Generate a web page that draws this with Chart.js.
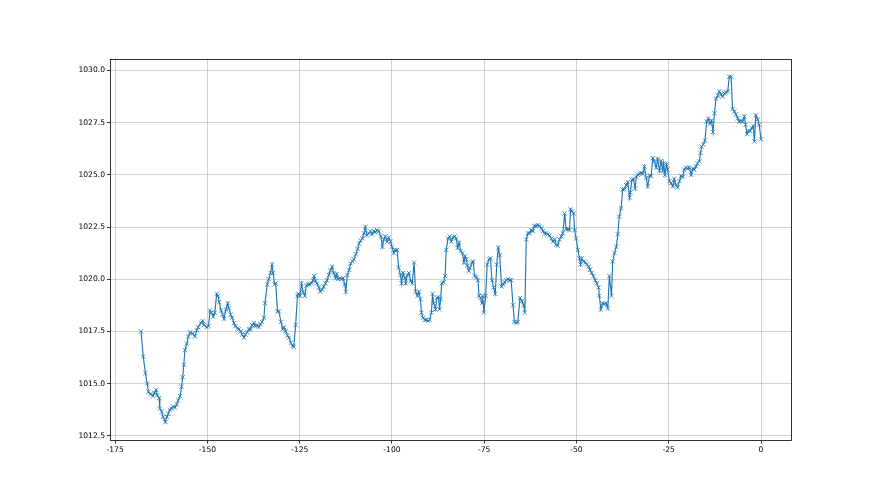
<!DOCTYPE html>
<html>
<head>
<meta charset="utf-8">
<script src="https://cdn.jsdelivr.net/npm/chart.js@4/dist/chart.umd.min.js"></script>
<style>
  html, body { margin: 0; padding: 0; background: #fff; }
  #wrap { width: 880px; height: 495px; }
</style>
</head>
<body>
<div id="wrap"><canvas id="c" width="880" height="495"></canvas></div>
<script>
// Hours relative to now
const hours = [
  -168.0, -167.4, -166.8, -166.3, -166.0, -165.4, -164.8, -164.4, -163.9, -163.6,
  -163.1, -162.9, -162.4, -162.0, -161.4, -161.0, -160.6, -160.2, -159.7, -159.3,
  -158.8, -158.3, -157.9, -157.4, -157.0, -156.7, -156.4, -156.1, -155.6, -155.2,
  -154.7, -154.0, -153.4, -152.9, -152.5, -151.8, -151.3, -150.9, -150.2, -149.7,
  -149.3, -148.9, -148.4, -148.0, -147.5, -147.1, -146.8, -146.3, -145.9, -145.5,
  -145.0, -144.5, -144.2, -143.7, -143.3, -142.8, -142.4, -141.9, -141.5, -141.0,
  -140.6, -140.1, -139.7, -139.2, -138.8, -138.3, -137.9, -137.4, -137.0, -136.5,
  -136.1, -135.6, -135.2, -134.7, -134.4, -133.8, -133.4, -132.9, -132.5, -132.2,
  -131.8, -131.5, -131.0, -130.6, -130.1, -129.6, -129.2, -128.8, -128.3, -127.9,
  -127.4, -126.9, -126.6, -126.1, -125.6, -125.4, -124.9, -124.5, -124.1, -123.6,
  -123.2, -122.7, -122.3, -121.8, -121.4, -121.1, -120.7, -120.3, -119.8, -119.4,
  -118.9, -118.5, -118.0, -117.6, -117.1, -116.7, -116.2, -115.8, -115.3, -115.0,
  -114.6, -114.1, -113.7, -113.2, -112.8, -112.5, -112.1, -111.6, -111.2, -110.7,
  -110.3, -109.8, -109.3, -108.9, -108.5, -108.0, -107.6, -107.2, -106.8, -106.3,
  -105.8, -105.4, -104.9, -104.5, -104.0, -103.6, -103.0, -102.6, -102.2, -101.8,
  -101.3, -100.9, -100.4, -100.0, -99.5, -99.1, -98.6, -98.2, -97.7, -97.4,
  -97.0, -96.5, -96.3, -95.8, -95.4, -94.9, -94.5, -94.0, -93.6, -93.1,
  -92.7, -92.3, -92.0, -91.6, -91.1, -90.7, -90.2, -89.8, -89.3, -89.0,
  -88.7, -88.2, -87.8, -87.4, -87.1, -86.8, -86.5, -86.0, -85.6, -85.3,
  -84.8, -84.4, -83.9, -83.5, -83.0, -82.6, -82.2, -81.8, -81.4, -80.9,
  -80.5, -80.2, -79.8, -79.6, -79.2, -78.8, -78.3, -78.0, -77.6, -77.1,
  -76.7, -76.4, -76.0, -75.6, -75.4, -75.1, -74.6, -74.2, -73.7, -73.3,
  -72.9, -72.5, -72.0, -71.6, -71.2, -70.8, -70.3, -69.8, -69.5, -69.0,
  -68.6, -68.1, -67.7, -67.2, -66.8, -66.3, -65.9, -65.3, -64.8, -64.3,
  -64.0, -63.6, -63.2, -62.7, -62.3, -61.8, -61.4, -60.9, -60.5, -60.0,
  -59.5, -59.1, -58.7, -58.2, -57.8, -57.3, -56.8, -56.4, -55.9, -55.5,
  -55.1, -54.6, -54.1, -53.7, -53.2, -52.8, -52.3, -51.9, -51.6, -51.2,
  -50.8, -50.5, -50.1, -49.6, -49.2, -48.9, -48.6, -48.1, -47.6, -47.2,
  -46.7, -46.3, -45.9, -45.4, -44.9, -44.5, -44.0, -43.8, -43.4, -42.9,
  -42.4, -42.0, -41.5, -41.1, -40.5, -40.2, -39.7, -39.2, -38.8, -38.4,
  -37.9, -37.5, -37.0, -36.5, -36.1, -35.6, -35.4, -35.0, -34.6, -34.1,
  -33.8, -33.4, -32.9, -32.5, -32.0, -31.6, -31.1, -30.7, -30.2, -29.8,
  -29.3, -28.9, -28.4, -28.0, -27.5, -27.1, -26.6, -26.4, -26.0, -25.6,
  -25.3, -24.8, -24.4, -23.9, -23.5, -23.0, -22.6, -22.1, -21.7, -21.2,
  -20.8, -20.3, -19.9, -19.4, -18.9, -18.5, -18.1, -17.6, -17.2, -16.7,
  -16.4, -16.1, -15.6, -15.2, -14.7, -14.3, -13.8, -13.4, -13.0, -12.6,
  -12.2, -11.7, -11.3, -10.8, -10.4, -9.9, -9.5, -9.0, -8.6, -8.1,
  -7.7, -7.2, -6.8, -6.3, -5.9, -5.4, -5.0, -4.5, -4.2, -3.8,
  -3.4, -2.9, -2.5, -2.1, -1.8, -1.4, -0.9, -0.5, 0.0
];

// Pressure readings (hPa) in order
const pressure = [
  1017.5, 1016.3, 1015.5, 1015.0, 1014.6, 1014.5, 1014.4, 1014.55, 1014.7, 1014.45,
  1014.3, 1013.8, 1013.65, 1013.4, 1013.15, 1013.4, 1013.55, 1013.75, 1013.8, 1013.9,
  1013.85, 1014.0, 1014.2, 1014.4, 1014.85, 1015.3, 1015.9, 1016.6, 1016.9, 1017.25,
  1017.45, 1017.4, 1017.25, 1017.55, 1017.7, 1017.9, 1018.0, 1017.8, 1017.7, 1017.75,
  1018.5, 1018.4, 1018.2, 1018.4, 1019.3, 1019.2, 1018.9, 1018.5, 1018.3, 1018.1,
  1018.55, 1018.85, 1018.6, 1018.3, 1018.15, 1017.9, 1017.75, 1017.65, 1017.6, 1017.5,
  1017.35, 1017.2, 1017.35, 1017.45, 1017.6, 1017.6, 1017.8, 1017.9, 1017.75, 1017.8,
  1017.7, 1017.85, 1017.95, 1018.15, 1018.85, 1019.75, 1020.0, 1020.3, 1020.7, 1020.3,
  1019.75, 1019.8, 1018.45, 1018.45, 1017.95, 1017.6, 1017.7, 1017.5, 1017.3, 1017.2,
  1016.95, 1016.8, 1016.75, 1017.8, 1019.2, 1019.3, 1019.2, 1019.8, 1019.4, 1019.2,
  1019.7, 1019.75, 1019.75, 1019.8, 1019.95, 1020.15, 1019.9, 1019.8, 1019.6, 1019.4,
  1019.5, 1019.65, 1019.8, 1019.95, 1020.2, 1020.4, 1020.6, 1020.3, 1020.05, 1020.25,
  1020.0, 1020.05, 1020.0, 1020.05, 1019.75, 1019.4, 1020.2, 1020.45, 1020.75, 1020.85,
  1020.95, 1021.2, 1021.45, 1021.7, 1021.85, 1021.95, 1022.2, 1022.5, 1022.1, 1022.2,
  1022.3, 1022.15, 1022.3, 1022.25, 1022.35, 1022.3, 1022.05, 1021.55, 1021.9, 1022.05,
  1021.8, 1022.0, 1021.8, 1021.55, 1021.25, 1021.4, 1021.4, 1020.55, 1020.2, 1019.8,
  1020.3, 1020.05, 1019.8, 1020.2, 1020.3, 1019.9, 1019.8, 1020.8, 1019.4, 1019.2,
  1019.4, 1019.05, 1018.4, 1018.15, 1018.05, 1018.05, 1018.0, 1018.05, 1018.4, 1019.3,
  1018.85, 1018.55, 1019.1, 1019.15, 1018.55, 1019.05, 1019.8, 1019.85, 1020.15, 1021.4,
  1021.95, 1022.05, 1021.8, 1022.0, 1022.05, 1021.95, 1021.5, 1021.75, 1021.35, 1021.25,
  1020.8, 1021.1, 1020.95, 1020.65, 1020.4, 1020.55, 1020.8, 1020.85, 1020.15, 1020.1,
  1019.95, 1019.2, 1019.1, 1018.85, 1019.2, 1018.4, 1019.2, 1020.7, 1020.95, 1021.0,
  1019.95, 1019.6, 1019.3, 1020.7, 1021.5, 1021.15, 1019.65, 1019.75, 1019.85, 1019.95,
  1020.0, 1019.95, 1019.95, 1018.75, 1017.95, 1017.9, 1017.95, 1019.1, 1018.95, 1018.75,
  1018.4, 1021.9, 1022.2, 1022.2, 1022.35, 1022.3, 1022.55, 1022.55, 1022.6, 1022.55,
  1022.45, 1022.3, 1022.2, 1022.2, 1022.15, 1022.1, 1021.95, 1021.8, 1021.9, 1021.65,
  1021.6, 1021.9, 1022.05, 1022.2, 1023.15, 1022.4, 1022.4, 1022.35, 1023.35, 1023.25,
  1023.15, 1022.35, 1021.95, 1021.4, 1021.0, 1020.7, 1021.0, 1020.85, 1020.8, 1020.7,
  1020.6, 1020.45, 1020.3, 1020.15, 1019.95, 1019.8, 1019.6, 1019.2, 1018.55, 1018.85,
  1018.8, 1018.85, 1018.6, 1020.15, 1019.2, 1020.85, 1021.25, 1021.55, 1022.15, 1023.0,
  1023.4, 1024.3, 1024.3, 1024.5, 1024.65, 1023.9, 1024.15, 1024.75, 1024.8, 1024.35,
  1024.9, 1025.0, 1025.05, 1025.1, 1025.05, 1025.4, 1024.85, 1024.45, 1024.95, 1024.95,
  1025.8, 1025.65, 1025.35, 1025.75, 1025.2, 1025.65, 1025.2, 1025.55, 1025.0, 1025.5,
  1025.25, 1024.7, 1024.6, 1024.45, 1024.8, 1024.5, 1024.4, 1024.7, 1024.95, 1024.9,
  1025.25, 1025.35, 1025.3, 1025.35, 1025.0, 1025.3, 1025.25, 1025.4, 1025.55, 1025.65,
  1026.05, 1026.35, 1026.45, 1026.65, 1027.55, 1027.7, 1027.45, 1027.6, 1027.05, 1027.95,
  1028.65, 1028.8, 1029.0, 1028.85, 1028.75, 1028.9, 1028.95, 1029.0, 1029.7, 1029.7,
  1028.15, 1028.05, 1027.9, 1027.7, 1027.55, 1027.6, 1027.55, 1027.8, 1027.4, 1026.95,
  1027.1, 1027.1, 1027.25, 1027.35, 1026.6, 1027.85, 1027.65, 1027.4, 1026.7
];

// Tick labels
const xTicks = [-175, -150, -125, -100, -75, -50, -25, 0];
const yTicks = [1012.5, 1015.0, 1017.5, 1020.0, 1022.5, 1025.0, 1027.5, 1030.0];

const points = hours.map((h, i) => ({ x: h, y: pressure[i] }));

const C = '#1f77b4';
const font = { family: 'DejaVu Sans', size: 7.6 };

const frame = {
  id: 'frame',
  beforeDraw(chart) {
    const ctx = chart.ctx;
    ctx.save();
    ctx.fillStyle = '#fff';
    ctx.fillRect(0, 0, chart.width, chart.height);
    ctx.restore();
  },
  afterDraw(chart) {
    const a = chart.chartArea, ctx = chart.ctx;
    ctx.save();
    ctx.strokeStyle = '#000';
    ctx.lineWidth = 0.8;
    ctx.strokeRect(Math.round(a.left) + 0.5, Math.round(a.top) + 0.5,
                   Math.round(a.right - a.left) - 1, Math.round(a.bottom - a.top) - 1);
    ctx.restore();
  }
};

new Chart(document.getElementById('c'), {
  type: 'line',
  data: {
    datasets: [{
      data: points,
      borderColor: C,
      backgroundColor: C,
      borderWidth: 1.15,
      pointStyle: 'crossRot',
      pointRadius: 3,
      pointBorderWidth: 0.8,
      pointBorderColor: C,
      pointHoverRadius: 3,
      tension: 0,
      fill: false
    }]
  },
  options: {
    responsive: false,
    animation: false,
    devicePixelRatio: 1,
    layout: { padding: { left: 0, right: 88, top: 59, bottom: 0 } },
    plugins: { legend: { display: false }, tooltip: { enabled: false } },
    scales: {
      x: {
        type: 'linear',
        min: -176.4,
        max: 8.4,
        afterBuildTicks(s) { s.ticks = xTicks.map(v => ({ value: v })); },
        afterFit(s) { s.height = 495 - 59 - 381.5; },
        grid: { color: '#b0b0b0', lineWidth: 0.6, tickColor: '#000', tickLength: 3, tickWidth: 0.8 },
        border: { display: false },
        ticks: { font, color: '#000', padding: 2, maxRotation: 0, autoSkip: false,
                 callback: v => String(v) }
      },
      y: {
        type: 'linear',
        min: 1012.27,
        max: 1030.55,
        afterBuildTicks(s) { s.ticks = yTicks.map(v => ({ value: v })); },
        afterFit(s) { s.width = 110; },
        grid: { color: '#b0b0b0', lineWidth: 0.6, tickColor: '#000', tickLength: 3, tickWidth: 0.8 },
        border: { display: false },
        ticks: { font, color: '#000', padding: 2, autoSkip: false,
                 callback: v => Number(v).toFixed(1) }
      }
    }
  },
  plugins: [frame]
});
</script>
</body>
</html>
